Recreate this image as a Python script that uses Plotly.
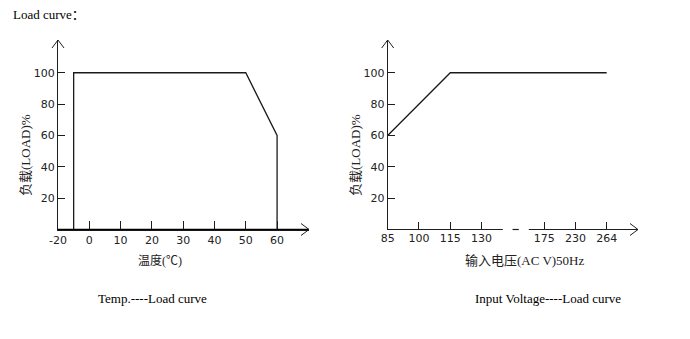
import plotly.graph_objects as go

# ---- data ----
temp_x = [-5, -5, 50, 60, 60]          # axis units (origin labelled -20)
temp_load = [0, 100, 100, 60, 0]
temp_tickvals = [-10, 0, 10, 20, 30, 40, 50, 60]
temp_ticktext = ["-20", "0", "10", "20", "30", "40", "50", "60"]

volt_pos = [0, 2, 7]                   # positions of 85, 115, 264
volt_load = [60, 100, 100]
volt_tickvals = [0, 1, 2, 3, 5, 6, 7]
volt_ticktext = ["85", "100", "115", "130", "175", "230", "264"]

load_ticks = [20, 40, 60, 80, 100]

W, H = 690, 339
def px(x): return x / W
def py(y): return 1 - y / H

fig = go.Figure()
fig.add_trace(go.Scatter(x=temp_x, y=temp_load, mode="lines",
                         line=dict(color="#1a1a1a", width=1.3), xaxis="x", yaxis="y",
                         showlegend=False, hoverinfo="skip", cliponaxis=False))
fig.add_trace(go.Scatter(x=volt_pos, y=volt_load, mode="lines",
                         line=dict(color="#1a1a1a", width=1.3), xaxis="x2", yaxis="y2",
                         showlegend=False, hoverinfo="skip", cliponaxis=False))

AX = "#1e1e1e"
tickfont = dict(family="DejaVu Sans", size=11, color="#222")
ydom = [py(229.5), py(40)]
common_y = dict(range=[0, 120.9], tickvals=load_ticks, ticktext=[str(v) for v in load_ticks],
                ticks="inside", ticklen=7, tickcolor=AX, showline=True, linecolor=AX,
                linewidth=1.2, showgrid=False, zeroline=False, tickfont=tickfont,
                automargin=False)

fig.update_layout(
    width=W, height=H, margin=dict(l=0, r=0, t=0, b=0, pad=0),
    paper_bgcolor="white", plot_bgcolor="rgba(0,0,0,0)",
    xaxis=dict(domain=[px(58), px(309)], range=[-10, 70.2], tickvals=temp_tickvals,
               ticktext=temp_ticktext, ticks="inside", ticklen=8, tickcolor=AX,
               showline=True, linecolor=AX, linewidth=1.2, showgrid=False,
               zeroline=False, tickfont=tickfont, anchor="y", automargin=False),
    yaxis=dict(domain=ydom, anchor="x", **common_y),
    xaxis2=dict(domain=[px(387.7), px(638)], range=[0, 8.0], tickvals=volt_tickvals,
                ticktext=volt_ticktext, ticks="inside", ticklen=8, tickcolor=AX,
                showline=False, showgrid=False, zeroline=False, tickfont=tickfont,
                anchor="y2", automargin=False),
    yaxis2=dict(domain=ydom, anchor="x2", **common_y),
)

shapes = []
# left x axis line (paper level, unclipped)
shapes.append(dict(type="line", xref="paper", yref="paper", x0=px(58), x1=px(309),
                   y0=py(229.5), y1=py(229.5), layer="above",
                   line=dict(color="#000", width=1.5)))
# broken x axis on the right chart
for x0, x1 in [(0, 3.68), (3.99, 4.19), (4.51, 8.0)]:
    shapes.append(dict(type="line", xref="x2", yref="y2 domain", x0=x0, x1=x1, y0=0, y1=0,
                       line=dict(color=AX, width=1.2)))
# arrowheads (domain refs -> not clipped)
def arrow_up(ax):
    return dict(type="path", xref=f"x{ax} domain", yref=f"y{ax} domain",
                xsizemode="pixel", ysizemode="pixel", xanchor=0, yanchor=1,
                path="M -6,-8 L 0,0 L 6,-8", line=dict(color=AX, width=1))
def arrow_right(ax):
    return dict(type="path", xref=f"x{ax} domain", yref=f"y{ax} domain",
                xsizemode="pixel", ysizemode="pixel", xanchor=1, yanchor=0,
                path="M -8,6 L 0,0 L -8,-6", line=dict(color=AX, width=1))
shapes += [arrow_up(""), arrow_right(""), arrow_up("2"), arrow_right("2")]
fig.update_layout(shapes=shapes)

serif = "Liberation Serif, Noto Sans CJK SC"
cjk = "Liberation Serif, Noto Sans CJK SC"
ann = [
    dict(text="Load curve：", x=px(11), y=py(14), xanchor="left",
         font=dict(family=serif, size=13, color="#000")),
    dict(text="负载(LOAD)%", x=px(25), y=py(155), textangle=-90,
         font=dict(family=cjk, size=13, color="#222")),
    dict(text="负载(LOAD)%", x=px(355), y=py(155), textangle=-90,
         font=dict(family=cjk, size=13, color="#222")),
    dict(text="温度(℃)", x=px(160), y=py(260),
         font=dict(family=cjk, size=12, color="#222")),
    dict(text="输入电压(AC V)50Hz", x=px(525), y=py(260),
         font=dict(family=cjk, size=13, color="#222")),
    dict(text="Temp.----Load curve", x=px(152), y=py(298),
         font=dict(family=serif, size=13, color="#000")),
    dict(text="Input Voltage----Load curve", x=px(548), y=py(298),
         font=dict(family=serif, size=13, color="#000")),
]
for a in ann:
    a.setdefault("xanchor", "center")
    a.update(xref="paper", yref="paper", showarrow=False, yanchor="middle")
fig.update_layout(annotations=ann)

fig.write_html("out.html")
